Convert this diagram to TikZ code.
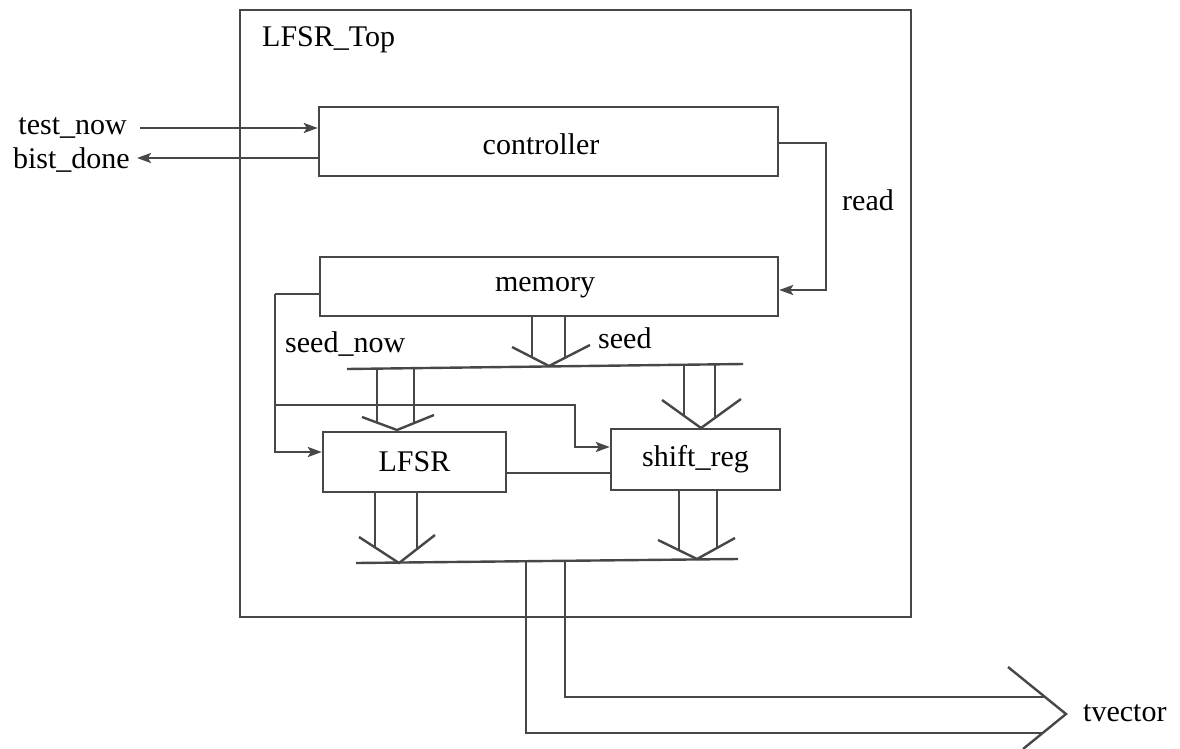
\documentclass[tikz,border=0pt]{standalone}
\usepackage{fontspec}
\setmainfont{Liberation Serif}
\usetikzlibrary{arrows.meta,calc}
\newcommand{\lblfont}{\fontsize{30}{36}\selectfont}
\begin{document}
\begin{tikzpicture}[x=1pt,y=-1pt,
  wire/.style={draw=black!72,line width=2.4pt},
  arr/.style={wire,-{Stealth[length=14pt,width=10pt,inset=3pt]}},
  block/.style={draw=black!72,line width=2.4pt,inner sep=0pt,font=\lblfont},
  lab/.style={inner sep=0pt,font=\lblfont}]
\useasboundingbox (0,0) rectangle (1180,749);

% top-level frame
\node[block,minimum width=671pt,minimum height=607pt] (top) at (575.5,313.5) {};
\node[lab,anchor=base west] (topname) at (262,47) {LFSR\_Top};

% blocks
\node[block,minimum width=459pt,minimum height=69pt] (ctrl) at (548.5,141.5) {};
\node[lab] (ctrltxt) at (541,144) {controller};
\node[block,minimum width=458pt,minimum height=59pt] (mem) at (549,286.5) {};
\node[lab] (memtxt) at (545,288) {memory};
\node[block,minimum width=183pt,minimum height=60pt] (lfsr) at (414.5,462) {LFSR};
\node[block,minimum width=169pt,minimum height=61pt] (shreg) at (695.5,459.5) {shift\_reg};

% port labels
\node[lab,anchor=base east] (tn) at (127,135) {test\_now};
\node[lab,anchor=base east] (bd) at (130,168) {bist\_done};
\node[lab,anchor=base west] (rdl) at (842,210) {read};
\node[lab,anchor=base west] (snl) at (285,352) {seed\_now};
\node[lab,anchor=base west] (sdl) at (598,348) {seed};
\node[lab,anchor=base west] (tvl) at (1083,721) {tvector};

% control signals
\coordinate (tnstart) at (140,128);
\draw[arr] (tnstart) -- (tnstart -| ctrl.west);
\coordinate (bdend) at (137,158);
\draw[arr] (bdend -| ctrl.west) -- (bdend);
\draw[arr] ($(ctrl.east)+(0,1.5)$) -- (826,143) -- (826,290) -- ($(mem.east)+(0,3.5)$);

% seed_now fan-out
\coordinate (sn) at (275,294);
\coordinate (snb) at (275,405);
\draw[wire] ($(mem.west)+(0,7.5)$) -- (sn);
\draw[arr] (sn) -- (275,452) -- ($(lfsr.west)+(0,-10)$);
\draw[arr] (snb) -- (575,405) -- (575,447) -- ($(shreg.west)+(0,-12.5)$);

% LFSR to shift_reg
\draw[wire] (lfsr.east |- 0,473) -- (shreg.west |- 0,473);

% seed bus from memory
\coordinate (busA) at (347,369);
\coordinate (busB) at (743,364);
\draw[wire] (busA) -- (busB);
\draw[wire] (mem.south -| 532,0) -- (532,356);
\draw[wire] (mem.south -| 565,0) -- (565,357);
\draw[wire] (512,347) -- (549,366) -- (590,345);

% bus into LFSR
\draw[wire] (377,368) -- (377,423);
\draw[wire] (414,367) -- (414,423);
\draw[wire] (362,417) -- (397,430) -- (434,415);

% bus into shift_reg
\draw[wire] (684,365) -- (684,416);
\draw[wire] (715,364) -- (715,418);
\draw[wire] (662,400) -- (701,428) -- (741,399);

% output bus
\coordinate (obA) at (356,563);
\coordinate (obB) at (738,559);
\draw[wire] (obA) -- (obB);
\draw[wire] (lfsr.south -| 375,0) -- (375,547);
\draw[wire] (lfsr.south -| 417,0) -- (417,549);
\draw[wire] (359,537) -- (399,563) -- (435,535);
\draw[wire] (shreg.south -| 679,0) -- (679,550);
\draw[wire] (shreg.south -| 717,0) -- (717,548);
\draw[wire] (658,540) -- (697,559) -- (735,538);

% tvector output
\draw[wire] (565,561) -- (565,697) -- (1045,697);
\draw[wire] (526,562) -- (526,733) -- (1042,733);
\draw[wire] (1008,667) -- (1066,714) -- (1023,749);
\end{tikzpicture}
\end{document}
